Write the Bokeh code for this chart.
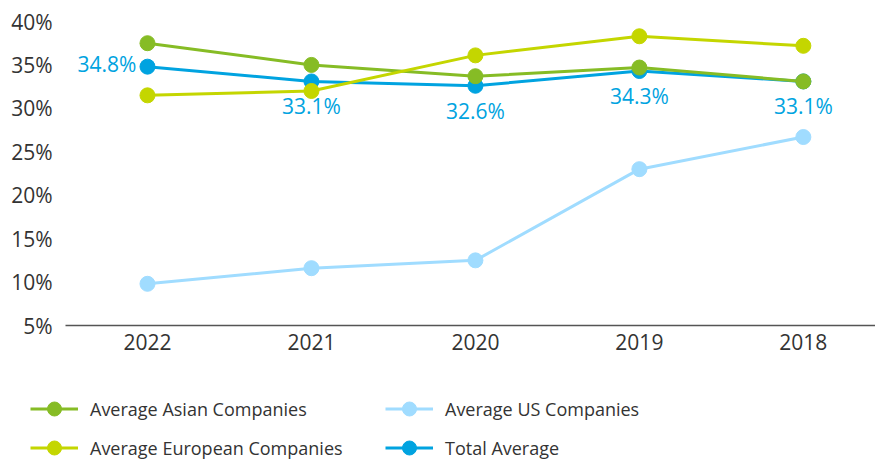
from bokeh.plotting import figure
from bokeh.layouts import column
from bokeh.models import (Range1d, FixedTicker, PrintfTickFormatter, Legend,
                          LegendItem, ColumnDataSource)
from bokeh.embed import file_html
from bokeh.resources import INLINE
from bokeh.core.properties import value

# ---- data ----
years = ["2022", "2021", "2020", "2019", "2018"]
asian = [37.5, 35.0, 33.7, 34.7, 33.1]
european = [31.5, 32.0, 36.1, 38.3, 37.2]
us = [9.8, 11.6, 12.5, 23.0, 26.7]
total = [34.8, 33.1, 32.6, 34.3, 33.1]
y_ticks = [5, 10, 15, 20, 25, 30, 35, 40]
series_names = ["Average Asian Companies", "Average European Companies",
                "Average US Companies", "Total Average"]

FONT = "Open Sans"
C_ASIAN = "#86BC25"
C_EURO = "#C4D600"
C_US = "#A0DCFF"
C_TOTAL = "#00A3E0"
TXT = "#333333"

xs = list(range(len(years)))

p = figure(width=875, height=372, output_backend="svg", toolbar_location=None,
           x_range=Range1d(-0.5, 4.44), y_range=Range1d(5, 40),
           min_border_left=65, min_border_right=0, min_border_top=21,
           min_border_bottom=47)
p.outline_line_color = None
p.grid.visible = False
p.background_fill_color = "white"
p.border_fill_color = "white"

# axes
p.xaxis.ticker = FixedTicker(ticks=xs)
p.xaxis.major_label_overrides = {i: y for i, y in zip(xs, years)}
p.xaxis.axis_line_color = "#555555"
p.xaxis.axis_line_width = 1.3
p.xaxis.major_tick_line_color = None
p.xaxis.minor_tick_line_color = None
p.xaxis.major_tick_out = 0
p.xaxis.major_label_standoff = 8
p.xaxis.major_label_text_font = FONT
p.xaxis.major_label_text_font_size = "21px"
p.xaxis.major_label_text_color = TXT

p.yaxis.ticker = FixedTicker(ticks=y_ticks)
p.yaxis.formatter = PrintfTickFormatter(format="%d%%")
p.yaxis.axis_line_color = None
p.yaxis.major_tick_line_color = None
p.yaxis.minor_tick_line_color = None
p.yaxis.major_tick_out = 0
p.yaxis.major_label_standoff = 13
p.yaxis.major_label_text_font = FONT
p.yaxis.major_label_text_font_size = "21px"
p.yaxis.major_label_text_color = TXT

src = ColumnDataSource(dict(x=xs, asian=asian, european=european, us=us, total=total))

def series(fig, col, color):
    l = fig.line("x", col, source=src, line_color=color, line_width=3)
    c = fig.scatter("x", col, source=src, size=15, fill_color=color, line_color=color)
    return l, c

series(p, "us", C_US)
series(p, "total", C_TOTAL)
series(p, "asian", C_ASIAN)
series(p, "european", C_EURO)

# data labels for total average
first = ColumnDataSource(dict(x=xs[:1], y=total[:1], lab=[f"{v:.1f}%" for v in total[:1]]))
rest = ColumnDataSource(dict(x=xs[1:], y=total[1:], lab=[f"{v:.1f}%" for v in total[1:]]))
p.text("x", "y", text="lab", source=first, text_align="right", text_baseline="middle",
       x_offset=-11, y_offset=-3, text_font=value(FONT), text_font_size="21px",
       text_color=C_TOTAL)
p.text("x", "y", text="lab", source=rest, text_align="center", text_baseline="middle",
       x_offset=0, y_offset=25, text_font=value(FONT), text_font_size="21px",
       text_color=C_TOTAL)

# ---- legend panel (separate figure below the chart; its series lie outside its view) ----
lg = figure(width=875, height=87, output_backend="svg", toolbar_location=None,
            x_range=Range1d(-0.5, 4.44), y_range=Range1d(1000, 1001),
            x_axis_location=None, y_axis_location=None,
            min_border_left=0, min_border_right=0, min_border_top=0,
            min_border_bottom=0)
lg.frame_align = False
lg.grid.visible = False
lg.outline_line_color = None
l_us = series(lg, "us", C_US)
l_total = series(lg, "total", C_TOTAL)
l_asian = series(lg, "asian", C_ASIAN)
l_euro = series(lg, "european", C_EURO)

legend = Legend(items=[
    LegendItem(label=series_names[0], renderers=list(l_asian)),
    LegendItem(label=series_names[1], renderers=list(l_euro)),
    LegendItem(label=series_names[2], renderers=list(l_us)),
    LegendItem(label=series_names[3], renderers=list(l_total)),
], orientation="vertical", nrows=2, location=(30, -6))
legend.padding = 0
legend.margin = 0
legend.border_line_color = None
legend.background_fill_alpha = 0
legend.glyph_width = 48
legend.glyph_height = 35
legend.label_height = 35
legend.label_width = 291
legend.label_standoff = 12
legend.spacing = 4
legend.label_text_font = FONT
legend.label_text_font_size = "18px"
legend.label_text_color = TXT
legend.label_text_baseline = "middle"
lg.add_layout(legend, "center")

layout = column(p, lg, spacing=0)
open("out.html", "w").write(file_html(layout, INLINE))
